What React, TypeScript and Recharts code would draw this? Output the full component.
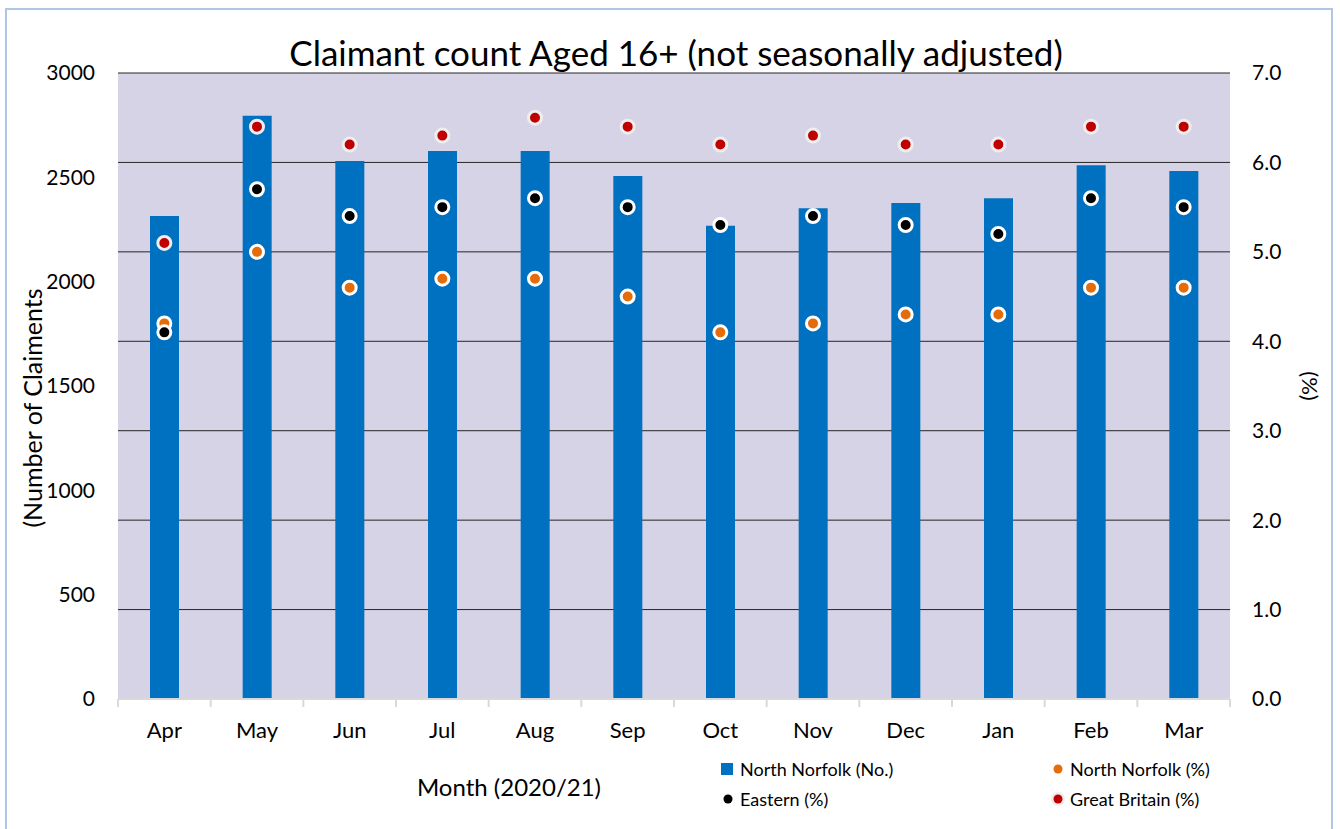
import { ComposedChart, Bar, Line, XAxis, YAxis, CartesianGrid, Legend } from "recharts";

const months = ["Apr", "May", "Jun", "Jul", "Aug", "Sep", "Oct", "Nov", "Dec", "Jan", "Feb", "Mar"];
const claimants = [2315, 2795, 2578, 2626, 2626, 2506, 2268, 2352, 2377, 2400, 2558, 2530];
const northNorfolkPct = [4.2, 5.0, 4.6, 4.7, 4.7, 4.5, 4.1, 4.2, 4.3, 4.3, 4.6, 4.6];
const easternPct = [4.1, 5.7, 5.4, 5.5, 5.6, 5.5, 5.3, 5.4, 5.3, 5.2, 5.6, 5.5];
const gbPct = [5.1, 6.4, 6.2, 6.3, 6.5, 6.4, 6.2, 6.3, 6.2, 6.2, 6.4, 6.4];
const leftTicks = [0, 500, 1000, 1500, 2000, 2500, 3000];
const rightTicks = [0, 1, 2, 3, 4, 5, 6, 7];

const data = months.map((m, i) => ({
  month: m,
  count: claimants[i],
  nn: northNorfolkPct[i],
  eastern: easternPct[i],
  gb: gbPct[i],
}));

const FONT = "Lato, 'Open Sans', sans-serif";
const HALF_BAND = (1230 - 118) / 24;

function MonthTick(props: any) {
  const { x, y, payload, index } = props;
  const last = index === months.length - 1;
  return (
    <g>
      <line x1={x - HALF_BAND} x2={x - HALF_BAND} y1={y} y2={y + 8} stroke="#d9d9d9" strokeWidth={2} />
      {last && <line x1={x + HALF_BAND} x2={x + HALF_BAND} y1={y} y2={y + 8} stroke="#d9d9d9" strokeWidth={2} />}
      <text x={x} y={y + 39} textAnchor="middle" fontSize={22} fill="#000" fontFamily={FONT}>
        {payload.value}
      </text>
    </g>
  );
}

const legendItems = [
  { label: "North Norfolk (No.)", kind: "square", color: "#0070c0" },
  { label: "North Norfolk (%)", kind: "dot", color: "#e46c0a" },
  { label: "Eastern (%)", kind: "dot", color: "#000000" },
  { label: "Great Britain (%)", kind: "halo", color: "#c00000" },
];

function LegendBox() {
  return (
    <div style={{ display: "grid", gridTemplateColumns: "330px 220px", rowGap: 6, fontFamily: FONT, fontSize: 18 }}>
      {legendItems.map((it) => (
        <div key={it.label} style={{ display: "flex", alignItems: "center", height: 24 }}>
          <svg width={16} height={16} style={{ marginRight: 4 }}>
            {it.kind === "square" && <rect x={1} y={2} width={12} height={12} fill={it.color} />}
            {it.kind === "dot" && <circle cx={8} cy={8} r={4.5} fill={it.color} />}
            {it.kind === "halo" && (
              <>
                <circle cx={8} cy={8} r={7} fill="#eeeeee" />
                <circle cx={8} cy={8} r={4.5} fill={it.color} />
              </>
            )}
          </svg>
          <span>{it.label}</span>
        </div>
      ))}
    </div>
  );
}

export default function App() {
  return (
    <div style={{ position: "absolute", left: 0, top: 0, width: 1340, height: 829, background: "#fff", overflow: "hidden" }}>
      <div
        style={{
          position: "absolute",
          left: 5,
          top: 8,
          width: 1328,
          height: 840,
          border: "2px solid #b0c6e2",
          boxSizing: "border-box",
        }}
      />
      <div
        style={{
          position: "absolute",
          left: 0,
          width: 1340,
          top: 31,
          textAlign: "center",
          fontFamily: FONT,
          fontSize: 35,
          color: "#000",
          paddingLeft: 6,
        }}
      >
        Claimant count Aged 16+ (not seasonally adjusted)
      </div>
      <ComposedChart
        width={1340}
        height={829}
        data={data}
        margin={{ top: 73, right: 0, bottom: 0, left: 0 }}
        style={{ position: "absolute", left: 0, top: 0 }}
      >
        <CartesianGrid yAxisId="right" vertical={false} stroke="#262626" fill="#d6d3e6" fillOpacity={1} />
        <XAxis
          dataKey="month"
          height={76}
          axisLine={{ stroke: "#d9d9d9", strokeWidth: 2 }}
          tickLine={false}
          tickSize={0}
          tickMargin={0}
          tick={<MonthTick />}
          interval={0}
          label={{
            content: () => (
              <text x={509} y={796} textAnchor="middle" fontSize={24} fontFamily={FONT} fill="#000">
                Month (2020/21)
              </text>
            ),
          }}
        />
        <YAxis
          yAxisId="left"
          width={118}
          domain={[0, 3000]}
          ticks={leftTicks}
          axisLine={false}
          tickLine={false}
          tickSize={0}
          tickMargin={23}
          tick={{ fontSize: 21, fill: "#000", fontFamily: FONT }}
          label={{
            content: () => (
              <text
                x={42}
                y={408}
                transform="rotate(-90 42 408)"
                textAnchor="middle"
                fontSize={25}
                fontFamily={FONT}
                fill="#000"
              >
                (Number of Claiments
              </text>
            ),
          }}
        />
        <YAxis
          yAxisId="right"
          orientation="right"
          width={110}
          domain={[0, 7]}
          ticks={rightTicks}
          tickFormatter={(v: number) => v.toFixed(1)}
          axisLine={false}
          tickLine={false}
          tickSize={0}
          tickMargin={22}
          tick={{ fontSize: 21, fill: "#000", fontFamily: FONT, textAnchor: "start" }}
          label={{
            content: () => (
              <text
                x={1302}
                y={386}
                transform="rotate(90 1302 386)"
                textAnchor="middle"
                fontSize={22}
                fontFamily={FONT}
                fill="#000"
              >
                (%)
              </text>
            ),
          }}
        />
        <Bar yAxisId="left" dataKey="count" name="North Norfolk (No.)" fill="#0070c0" barSize={29} isAnimationActive={false} />
        <Line
          yAxisId="right"
          dataKey="nn"
          name="North Norfolk (%)"
          stroke="none"
          dot={{ r: 6.5, fill: "#e46c0a", stroke: "#ffffff", strokeWidth: 3 }}
          activeDot={false}
          isAnimationActive={false}
        />
        <Line
          yAxisId="right"
          dataKey="eastern"
          name="Eastern (%)"
          stroke="none"
          dot={{ r: 6.5, fill: "#000000", stroke: "#ffffff", strokeWidth: 3 }}
          activeDot={false}
          isAnimationActive={false}
        />
        <Line
          yAxisId="right"
          dataKey="gb"
          name="Great Britain (%)"
          stroke="none"
          dot={{ r: 6.5, fill: "#c00000", stroke: "#eeeeee", strokeWidth: 3 }}
          activeDot={false}
          isAnimationActive={false}
        />
        <Legend
          content={<LegendBox />}
          wrapperStyle={{ position: "absolute", left: 720, top: 757, width: 580, bottom: "auto" }}
        />
      </ComposedChart>
    </div>
  );
}
